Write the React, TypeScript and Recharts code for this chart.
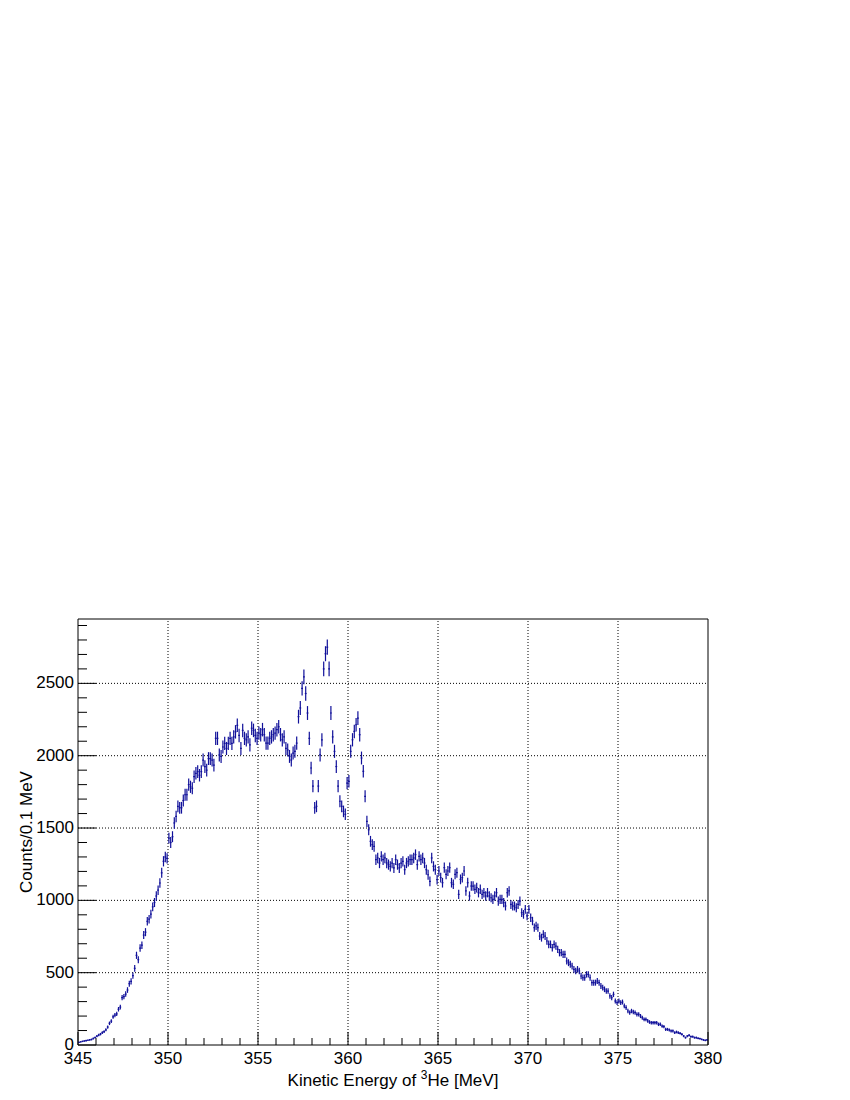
import React from "react";
import {
  ScatterChart,
  Scatter,
  XAxis,
  YAxis,
  ErrorBar,
  ReferenceLine,
  ReferenceArea,
} from "recharts";

// counts per 0.1 MeV bin, one array per 5 MeV
const counts345 = [
  18, 22, 25, 28, 30, 33, 36, 38, 45, 52,
  62, 69, 75, 85, 92, 105, 124, 150, 165, 195,
  207, 215, 247, 262, 327, 335, 352, 380, 424, 440,
  480, 530, 620, 590, 670, 690, 760, 780, 855, 870,
  905, 955, 985, 1030, 1070, 1120, 1190, 1270, 1300, 1290,
];
const counts350 = [
  1430, 1400, 1440, 1535, 1580, 1650, 1640, 1640, 1690, 1730,
  1730, 1800, 1785, 1775, 1855, 1878, 1890, 1865, 1890, 1970,
  1925, 1900, 1980, 1980, 1970, 1935, 2120, 2120, 2005, 1995,
  2060, 2085, 2050, 2085, 2120, 2085, 2130, 2165, 2210, 2140,
  2050, 2175, 2120, 2110, 2130, 2075, 2190, 2175, 2140, 2120,
];
const counts355 = [
  2156, 2145, 2180, 2145, 2087, 2087, 2120, 2130, 2145, 2156,
  2180, 2200, 2145, 2110, 2130, 2050, 2040, 1995, 1970, 2018,
  2030, 2087, 2270, 2330, 2465, 2545, 2430, 2295, 2120, 1915,
  1790, 1640, 1650, 1790, 2005, 2110, 2600, 2705, 2750, 2600,
  2295, 2130, 2030, 1925, 1790, 1685, 1650, 1615, 1595, 1810,
];
const counts360 = [
  1823, 2030, 2110, 2168, 2214, 2260, 2145, 1984, 1892, 1719,
  1546, 1488, 1408, 1385, 1373, 1281, 1293, 1258, 1304, 1281,
  1293, 1258, 1247, 1235, 1258, 1224, 1281, 1247, 1224, 1258,
  1270, 1212, 1258, 1270, 1281, 1281, 1293, 1316, 1247, 1304,
  1281, 1293, 1258, 1212, 1177, 1131, 1293, 1235, 1212, 1143,
];
const counts365 = [
  1203, 1157, 1122, 1226, 1180, 1203, 1226, 1122, 1111, 1180,
  1191, 1041, 1145, 1157, 1203, 1065, 1122, 1030, 1099, 1099,
  1076, 1088, 1053, 1076, 1041, 1053, 1030, 1053, 1030, 1018,
  1007, 1030, 1053, 995, 1007, 1007, 984, 961, 1053, 1065,
  972, 961, 961, 949, 972, 995, 915, 903, 938, 892,
];
const counts370 = [
  938, 880, 857, 811, 823, 811, 753, 742, 765, 753,
  719, 696, 696, 673, 696, 684, 661, 638, 638, 627,
  627, 581, 569, 558, 546, 523, 512, 523, 512, 477,
  465, 465, 488, 488, 465, 431, 431, 431, 442, 431,
  408, 396, 385, 373, 373, 339, 327, 350, 304, 293,
];
const counts375 = [
  304, 293, 297, 270, 258, 235, 224, 235, 228, 224,
  212, 212, 200, 189, 177, 177, 166, 159, 154, 154,
  154, 154, 143, 143, 131, 127, 108, 108, 104, 97,
  97, 85, 90, 85, 81, 74, 62, 51, 62, 67,
  58, 58, 51, 51, 46, 44, 39, 35, 32, 35,
];

const binLow = 345;
const binWidth = 0.1;
const xTicks = Array.from({ length: 36 }, (_, i) => 345 + i);
const yTicks = Array.from({ length: 30 }, (_, i) => i * 100);
const xGrid = [350, 355, 360, 365, 370, 375];
const yGrid = [500, 1000, 1500, 2000, 2500];
const yMax = 2945;

const counts = [
  ...counts345,
  ...counts350,
  ...counts355,
  ...counts360,
  ...counts365,
  ...counts370,
  ...counts375,
];

const data = counts.map((n, i) => ({
  e: binLow + binWidth * (i + 0.5),
  n,
  err: Math.sqrt(n),
  xerr: binWidth / 2,
}));

const font = "'Liberation Sans', Arial, Helvetica, sans-serif";
const fontSize = 17;
const lineColor = "#10109a";

const XTick = (props: any) => {
  const { x, y, payload } = props;
  const axisY = y - 2;
  const major = payload.value % 5 === 0;
  return (
    <g>
      <line x1={x} x2={x} y1={axisY} y2={axisY - (major ? 13 : 7)} stroke="#000" />
      {major && (
        <text x={x} y={axisY + 19} textAnchor="middle" fontSize={fontSize} fontFamily={font} fill="#000">
          {payload.value}
        </text>
      )}
    </g>
  );
};

const YTick = (props: any) => {
  const { x, y, payload } = props;
  const axisX = x + 2;
  const major = payload.value % 500 === 0;
  return (
    <g>
      <line x1={axisX} x2={axisX + (major ? 18 : 9)} y1={y} y2={y} stroke="#000" />
      {major && (
        <text x={axisX - 4} y={y + 5} textAnchor="end" fontSize={fontSize} fontFamily={font} fill="#000">
          {payload.value}
        </text>
      )}
    </g>
  );
};

const XTitle = (props: any) => {
  const { viewBox } = props;
  const cx = viewBox.x + viewBox.width / 2;
  return (
    <text x={cx} y={viewBox.y + 41} textAnchor="middle" fontSize={fontSize} fontFamily={font} fill="#000">
      Kinetic Energy of{" "}
      <tspan fontSize={12} dy={-7}>3</tspan>
      <tspan dy={7}>He [MeV]</tspan>
    </text>
  );
};

const YTitle = (props: any) => {
  const { viewBox } = props;
  const cy = viewBox.y + viewBox.height / 2;
  const tx = 24;
  return (
    <text
      x={tx}
      y={cy}
      transform={`rotate(-90 ${tx} ${cy})`}
      textAnchor="middle"
      fontSize={fontSize}
      fontFamily={font}
      fill="#000"
    >
      Counts/0.1 MeV
    </text>
  );
};

export default function App() {
  return (
    <div style={{ width: 834, height: 1084, background: "#fff" }}>
      <ScatterChart
        width={834}
        height={1084}
        margin={{ top: 611, right: 134, bottom: 7, left: 10 }}
      >
        <XAxis
          dataKey="e"
          type="number"
          domain={[345, 380]}
          ticks={xTicks}
          interval={0}
          allowDataOverflow
          tickSize={0}
          tickMargin={2}
          tickLine={false}
          axisLine={false}
          height={40}
          tick={<XTick />}
          label={{ content: <XTitle /> }}
        />
        <YAxis
          dataKey="n"
          type="number"
          domain={[0, yMax]}
          ticks={yTicks}
          interval={0}
          allowDataOverflow
          tickSize={0}
          tickMargin={2}
          tickLine={false}
          axisLine={false}
          width={60}
          tick={<YTick />}
          label={{ content: <YTitle /> }}
        />
        {xGrid.map((v) => (
          <ReferenceLine key={"x" + v} x={v} stroke="#000" strokeDasharray="1 2" />
        ))}
        {yGrid.map((v) => (
          <ReferenceLine key={"y" + v} y={v} stroke="#000" strokeDasharray="1 2" />
        ))}
        <Scatter data={data} isAnimationActive={false} shape={() => <g />}>
          <ErrorBar
            dataKey="err"
            direction="y"
            width={0}
            stroke={lineColor}
            strokeWidth={1.2}
            isAnimationActive={false}
          />
          <ErrorBar
            dataKey="xerr"
            direction="x"
            width={0}
            stroke={lineColor}
            strokeWidth={1.2}
            isAnimationActive={false}
          />
        </Scatter>
        <ReferenceArea
          x1={345}
          x2={380}
          y1={0}
          y2={yMax}
          fill="none"
          stroke="#000"
          strokeWidth={1}
          ifOverflow="visible"
        />
      </ScatterChart>
    </div>
  );
}
